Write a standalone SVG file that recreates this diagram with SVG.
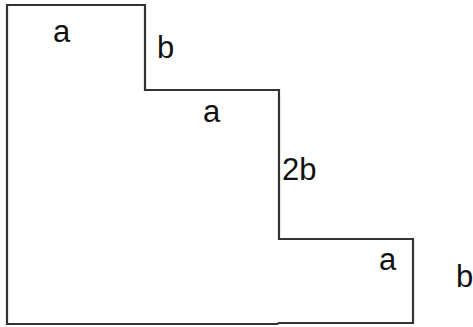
<svg xmlns="http://www.w3.org/2000/svg" width="473" height="327" viewBox="0 0 473 327">
<style>
.shape{fill:none;stroke:#333;stroke-width:2.2;stroke-linejoin:miter}
.lbl{font-family:"Liberation Sans",Arial,sans-serif;font-size:31px;fill:#111}
</style>
<rect width="473" height="327" fill="#fff"/>
<g id="outline">
<path class="shape" d="M7,324 V5 H145 V90 H279 V239 H413 V323 H279 L277,324 Z"/>
</g>
<g id="labels">
<text class="lbl" x="53" y="42">a</text>
<text class="lbl" x="157" y="58">b</text>
<text class="lbl" x="203" y="122">a</text>
<text class="lbl" x="282" y="180">2b</text>
<text class="lbl" x="379" y="270">a</text>
<text class="lbl" x="456" y="287">b</text>
</g>
</svg>
